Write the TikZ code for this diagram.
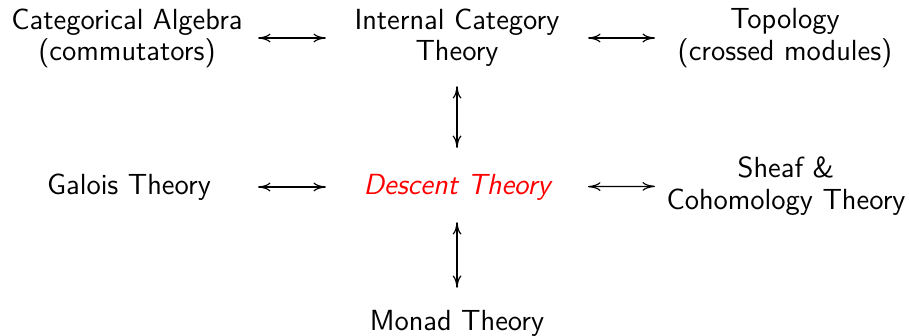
\documentclass[tikz,border=0pt]{standalone}
\usetikzlibrary{arrows.meta}
\begin{document}
\begin{tikzpicture}[x=0.3846pt, y=-0.3846pt, font=\sffamily\fontsize{11.2}{12}\selectfont,
    line width=0.45pt, >={To[length=4.8pt, width=3.4pt]}]
    \useasboundingbox (0,0) rectangle (909,336);
    \tikzset{area/.style={align=center, inner sep=0pt}}
    
    % 上一行
    \node[area] (catalg) at (127,38) {Categorical Algebra\\(commutators)};
    \node[area] (intcat) at (457,38) {Internal Category\\Theory};
    \node[area] (topo) at (785,38) {Topology\\(crossed modules)};
    
    % 中间一行
    \node[area] (galois) at (129,187) {Galois Theory};
    \node[area, red, font=\sffamily\itshape\fontsize{11.2}{12}\selectfont] (descent) at (457,187) {Descent Theory};
    \node[area] (sheaf) at (786,186) {Sheaf \&\\Cohomology Theory};
    
    % 下一行
    \node[area] (monad) at (457,323) {Monad Theory};
    
    % 箭头
    \draw[<->, shorten <=50.4pt, shorten >=50.4pt] (catalg.center) -- (intcat.center);
    \draw[<->, shorten <=50.4pt, shorten >=50pt] (intcat.center) -- (topo.center);
    \draw[<->, shorten <=49.6pt, shorten >=50.4pt] (galois.center) -- (descent.center);
    \draw[<->, shorten <=50.4pt, shorten >=50.4pt] (descent.center) -- (sheaf.center);
    \draw[<->, shorten <=18.5pt, shorten >=15pt] (intcat.center) -- (descent.center);
    \draw[<->, shorten <=13.5pt, shorten >=13.5pt] (descent.center) -- (monad.center);
\end{tikzpicture}
\end{document}
